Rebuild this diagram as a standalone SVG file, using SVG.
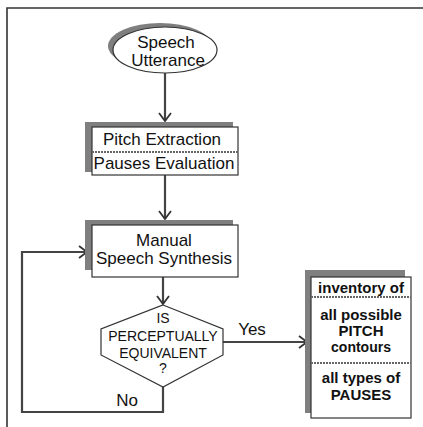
<svg xmlns="http://www.w3.org/2000/svg" width="423" height="427" viewBox="0 0 423 427">
<style>
.t{font-family:"Liberation Sans",Arial,sans-serif;fill:#111;text-anchor:middle}
.m{font-size:17px}
.h{font-size:14px}
.b{font-size:15px;font-weight:bold}
.box{fill:#fff;stroke:#333;stroke-width:1.2}
.sh{fill:#7f7f7f}
.div{stroke:#666;stroke-width:2;stroke-dasharray:2 1;fill:none}
.c{fill:none;stroke:#444;stroke-width:2.2}
</style>
<defs>
<marker id="ah" markerWidth="12" markerHeight="14" refX="9" refY="7" orient="auto" markerUnits="userSpaceOnUse">
<path d="M1,1 L9,7 L1,13" fill="none" stroke="#333" stroke-width="1.8"/>
</marker>
</defs>
<rect width="423" height="427" fill="#fff"/>
<g id="frame">
<path d="M7,427 V8 H423" fill="none" stroke="#333" stroke-width="1.6"/>
</g>
<g id="connectors">
<path class="c" d="M165,73 V121" marker-end="url(#ah)"/>
<path class="c" d="M165,175 V219" marker-end="url(#ah)"/>
<path class="c" d="M163,277 V304" marker-end="url(#ah)"/>
<path class="c" d="M223,342 H307" marker-end="url(#ah)"/>
<path class="c" d="M163,387 V412 H22 V252 H87" marker-end="url(#ah)"/>
</g>
<g id="utterance">
<ellipse class="sh" cx="160" cy="46" rx="52" ry="23"/>
<ellipse class="box" cx="165" cy="50" rx="52" ry="23"/>
<text class="t m" x="166" y="48">Speech</text>
<text class="t m" x="168" y="66">Utterance</text>
</g>
<g id="extraction">
<rect class="sh" x="85" y="122" width="148" height="50"/>
<rect class="box" x="92" y="127" width="146" height="48"/>
<line class="div" x1="92" y1="152" x2="238" y2="152"/>
<text class="t m" x="162" y="145">Pitch Extraction</text>
<text class="t m" x="164" y="169">Pauses Evaluation</text>
</g>
<g id="synthesis">
<rect class="sh" x="85" y="220" width="148" height="50"/>
<rect class="box" x="92" y="225" width="146" height="52"/>
<text class="t m" x="164" y="246">Manual</text>
<text class="t m" x="164" y="264">Speech Synthesis</text>
</g>
<g id="decision">
<polygon class="box" points="163,305 223,329 223,355 163,387 101,355 101,329"/>
<text class="t h" x="163" y="323">IS</text>
<text class="t h" x="163" y="341">PERCEPTUALLY</text>
<text class="t h" x="163" y="358">EQUIVALENT</text>
<text class="t h" x="163" y="373">?</text>
</g>
<g id="labels">
<text class="t m" x="252" y="335">Yes</text>
<text class="t m" x="127" y="406">No</text>
</g>
<g id="inventory">
<rect class="sh" x="305" y="270" width="100" height="143"/>
<rect class="box" x="311" y="277" width="100" height="141"/>
<line class="div" x1="311" y1="297" x2="411" y2="297"/>
<line class="div" x1="311" y1="363" x2="411" y2="363"/>
<text class="t b" x="361" y="293">inventory of</text>
<text class="t b" x="361" y="320">all possible</text>
<text class="t b" x="361" y="336">PITCH</text>
<text class="t b" x="361" y="352" style="font-size:14px">contours</text>
<text class="t b" x="361" y="383">all types of</text>
<text class="t b" x="361" y="400">PAUSES</text>
</g>
</svg>
